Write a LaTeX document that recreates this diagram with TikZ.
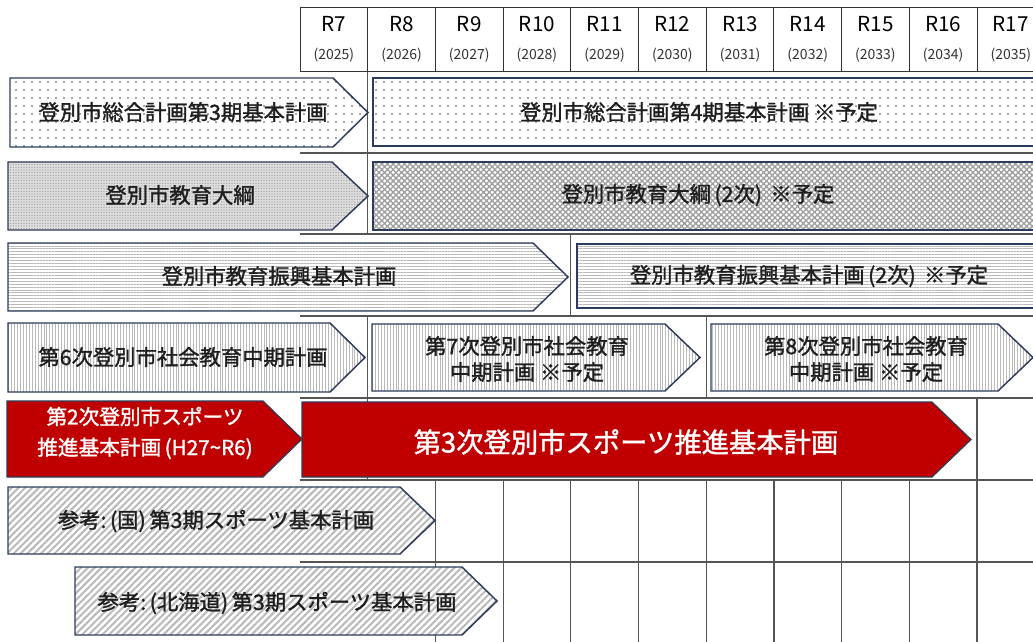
\documentclass[tikz,border=0pt]{standalone}
\usepackage{fontspec}
\usetikzlibrary{patterns.meta}
\newfontfamily\jp{Noto Sans CJK JP}[FakeBold=1.4]
\newfontfamily\jpr{Noto Sans CJK JP}
\definecolor{navy}{RGB}{46,60,92}
\definecolor{txt}{RGB}{30,30,30}
\definecolor{gline}{RGB}{85,85,85}
\definecolor{redf}{RGB}{192,0,0}
\tikzset{
  lab/.style={font=\jp\fontsize{16}{19.5}\selectfont, text=txt, align=center, inner sep=0pt},
  wlab/.style={font=\jp\fontsize{15.5}{23}\selectfont, text=white, align=center, inner sep=0pt},
  blab/.style={font=\jp\fontsize{20.5}{24}\selectfont, text=white, align=center, inner sep=0pt},
  hdr/.style={font=\jpr\fontsize{15.5}{17}\selectfont, text=black, inner sep=0pt},
  yrs/.style={font=\jpr\fontsize{10.5}{12}\selectfont, text=black!80, inner sep=0pt},
  hline/.style={draw=black!80, line width=0.75pt},
  gl/.style={draw=gline, line width=0.9pt},
  bx/.style={draw=navy, line width=1.1pt, line join=miter},
  bxt/.style={draw=navy, line width=1.8pt, line join=miter},
  p1/.style={preaction={fill=white}, pattern={Dots[radius=0.7pt,distance=6pt]}, pattern color=black!70},
  p2a/.style={preaction={fill=gray!25}, pattern={Dots[radius=0.55pt,distance=2pt]}, pattern color=gray!75},
  p2b/.style={preaction={fill=white}, pattern={Hatch[angle=45,distance=3pt,line width=1pt]}, pattern color=gray!75},
  p3/.style={preaction={fill=white}, pattern={Lines[angle=0,distance=2.2pt,line width=0.7pt]}, pattern color=gray!55},
  p4/.style={preaction={fill=white}, pattern={Lines[angle=90,distance=2.2pt,line width=0.7pt]}, pattern color=gray!55},
  p6/.style={preaction={fill=white}, pattern={Lines[angle=45,distance=3.6pt,line width=1.5pt]}, pattern color=gray!55},
  rd/.style={fill=redf, draw=navy, line width=0.9pt, line join=miter},
}
\begin{document}
\begin{tikzpicture}[x=0.75pt,y=-0.75pt]
\clip (0,0) rectangle (1033,642);
\fill[white] (0,0) rectangle (1033,642);
% header
\foreach \k in {0,...,11} \draw[hline] ({300+67.7*\k},7.5) -- ({300+67.7*\k},72);
\draw[hline] (300,7.5) -- (1045,7.5);
\draw[hline] (300,72) -- (1045,72);
\foreach \r/\yy [count=\k from 0] in {R7/2025,R8/2026,R9/2027,R10/2028,R11/2029,R12/2030,R13/2031,R14/2032,R15/2033,R16/2034,R17/2035} {
  \node[hdr] (h\k) at ({333.85+67.7*\k},24) {\r};
  \node[yrs] (y\k) at ({333.85+67.7*\k},55) {(\yy)};
}
% body grid
\foreach \yy in {153,234,316,398,480,562} \draw[gl] (300,\yy) -- (1045,\yy);
\draw[gl] (367.7,72) -- (367.7,234);
\draw[gl] (367.7,316) -- (367.7,480);
\draw[gl] (570.8,234) -- (570.8,316);
\draw[gl] (706.2,316) -- (706.2,398);
\draw[gl] (977,398) -- (977,642);
\foreach \xx in {435.4,503.1,570.8,638.5,706.2,773.9,841.6,909.3} \draw[gl] (\xx,480) -- (\xx,642);
% row 1
\path[p1,bx] (10,78) -- (333,78) -- (368,112.5) -- (333,147) -- (10,147) -- cycle;
\node[lab] (a1) at (183,112) {登別市総合計画第3期基本計画};
\path[p1,bxt] (373,78) rectangle (1045,146);
\node[lab] (a2) at (699,112) {登別市総合計画第4期基本計画 ※予定};
% row 2
\path[p2a,bx] (8,162) -- (332,162) -- (368,196) -- (332,230) -- (8,230) -- cycle;
\node[lab] (b1) at (180,195) {登別市教育大綱};
\path[p2b,bxt] (373,162) rectangle (1045,230);
\node[lab] (b2) at (698,195) {登別市教育大綱\,(2次)\, ※予定};
% row 3
\path[p3,bx] (8,243) -- (533,243) -- (568,277) -- (533,311) -- (8,311) -- cycle;
\node[lab] (c1) at (279,276) {登別市教育振興基本計画};
\path[p3,bxt] (577,244) rectangle (1045,308);
\node[lab] (c2) at (809,276) {登別市教育振興基本計画\,(2次)\, ※予定};
% row 4
\path[p4,bx] (8,323) -- (330,323) -- (365,357.5) -- (330,392) -- (8,392) -- cycle;
\node[lab] (d1) at (183,357) {第6次登別市社会教育中期計画};
\path[p4,bx] (372,324) -- (665,324) -- (700,357.5) -- (665,391) -- (372,391) -- cycle;
\node[lab] (d2) at (527,359) {第7次登別市社会教育\\中期計画 ※予定};
\path[p4,bx] (711,324) -- (998,324) -- (1033,357.5) -- (998,391) -- (711,391) -- cycle;
\node[lab] (d3) at (866,359) {第8次登別市社会教育\\中期計画 ※予定};
% row 5
\path[rd] (7,401) -- (263,401) -- (302,439) -- (263,477) -- (7,477) -- cycle;
\node[wlab] (e1) at (145,433) {第2次登別市スポーツ\\推進基本計画\,(H27\textasciitilde R6)};
\path[rd] (302,402) -- (932,402) -- (971,439.5) -- (932,477) -- (302,477) -- cycle;
\node[blab] (e2) at (626,442) {第3次登別市スポーツ推進基本計画};
% row 6
\path[p6,bx] (8,487) -- (400,487) -- (435,520.5) -- (400,554) -- (8,554) -- cycle;
\node[lab] (f1) at (216,521) {参考:\,(国)\,第3期スポーツ基本計画};
% row 7
\path[p6,bx] (75,567) -- (462,567) -- (497,601) -- (462,635) -- (75,635) -- cycle;
\node[lab] (g1) at (277,603) {参考:\,(北海道)\,第3期スポーツ基本計画};
\end{tikzpicture}
\end{document}
